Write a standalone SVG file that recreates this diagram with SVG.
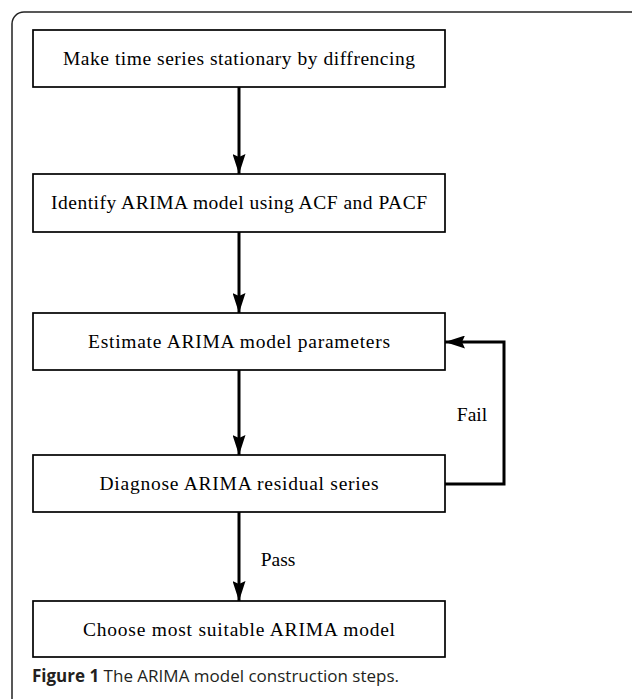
<svg xmlns="http://www.w3.org/2000/svg" width="632" height="699" viewBox="0 0 632 699">
<style>
.box{fill:#fff;stroke:#000;stroke-width:1.7}
.lbl{font-family:"Liberation Serif","Times New Roman",serif;font-size:19.5px;fill:#000;text-anchor:middle}
.edge{fill:none;stroke:#000;stroke-width:3}
.cap{font-family:"Open Sans","Noto Sans",sans-serif;font-size:17px;fill:#231f20}
</style>
<defs>
<marker id="ah" markerWidth="20" markerHeight="13" refX="20" refY="6.5" orient="auto" markerUnits="userSpaceOnUse" viewBox="0 0 20 13">
<path d="M0,0 L3,6.5 L0,13 L20,6.5 Z" fill="#000"/>
</marker>
</defs>
<rect x="12" y="12" width="640" height="720" rx="12" fill="#fff" stroke="#222" stroke-width="1.5"/>
<g id="connectors">
<line class="edge" x1="239" y1="87" x2="239" y2="174" marker-end="url(#ah)"/>
<line class="edge" x1="239" y1="232" x2="239" y2="313" marker-end="url(#ah)"/>
<line class="edge" x1="239" y1="370" x2="239" y2="455" marker-end="url(#ah)"/>
<line class="edge" x1="239" y1="512" x2="239" y2="601" marker-end="url(#ah)"/>
<polyline class="edge" points="445,484 504,484 504,342 445,342" marker-end="url(#ah)"/>
<text class="lbl" x="472" y="421">Fail</text>
<text class="lbl" x="278" y="566">Pass</text>
</g>
<g id="n1"><rect class="box" x="33" y="30" width="412" height="57"/><text class="lbl" x="239" y="65" textLength="352" lengthAdjust="spacing">Make time series stationary by diffrencing</text></g>
<g id="n2"><rect class="box" x="33" y="174" width="412" height="58"/><text class="lbl" x="239" y="209" textLength="376" lengthAdjust="spacing">Identify ARIMA model using ACF and PACF</text></g>
<g id="n3"><rect class="box" x="33" y="313" width="412" height="57"/><text class="lbl" x="239" y="348" textLength="302" lengthAdjust="spacing">Estimate ARIMA model parameters</text></g>
<g id="n4"><rect class="box" x="33" y="455" width="412" height="57"/><text class="lbl" x="239" y="490" textLength="279" lengthAdjust="spacing">Diagnose ARIMA residual series</text></g>
<g id="n5"><rect class="box" x="33" y="601" width="412" height="56"/><text class="lbl" x="239" y="636" textLength="312" lengthAdjust="spacing">Choose most suitable ARIMA model</text></g>
<text class="cap" x="32" y="682"><tspan font-weight="bold">Figure 1</tspan> The ARIMA model construction steps.</text>
</svg>
